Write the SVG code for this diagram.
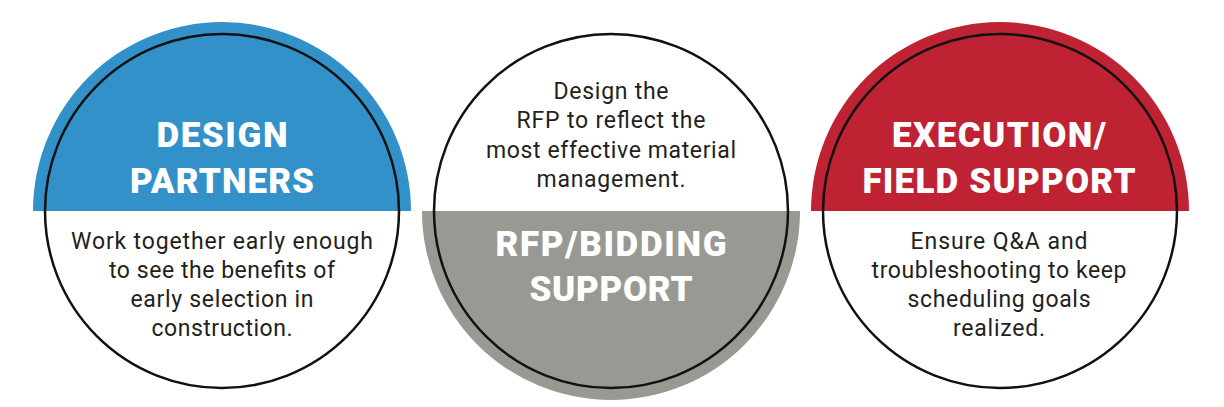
<svg xmlns="http://www.w3.org/2000/svg" width="1224" height="407" viewBox="0 0 1224 407">
  <style>
    .ring { fill: none; stroke: #111; stroke-width: 2.5; }
    .title { font-family: Roboto, "Liberation Sans", sans-serif; font-weight: 900; font-size: 35px; fill: #ffffff; text-anchor: middle; }
    .body { font-family: Roboto, "Liberation Sans", sans-serif; font-weight: 400; font-size: 23px; fill: #231f20; text-anchor: middle; }
  </style>
  <rect width="1224" height="407" fill="#ffffff"/>

  <g id="design-partners">
    <path d="M33 211 A189 189 0 0 1 411 211 Z" fill="#3191c8"/>
    <circle class="ring" cx="222" cy="211" r="177"/>
    <text class="title" x="222" y="147" textLength="131" lengthAdjust="spacing">DESIGN</text>
    <text class="title" x="222" y="193" textLength="184" lengthAdjust="spacing">PARTNERS</text>
    <text class="body" x="222" y="249" textLength="302" lengthAdjust="spacing">Work together early enough</text>
    <text class="body" x="222" y="278" textLength="226" lengthAdjust="spacing">to see the benefits of</text>
    <text class="body" x="222" y="307" textLength="183" lengthAdjust="spacing">early selection in</text>
    <text class="body" x="222" y="336" textLength="141" lengthAdjust="spacing">construction.</text>
  </g>

  <g id="rfp-bidding-support">
    <path d="M422 211 A189 189 0 0 0 800 211 Z" fill="#999994"/>
    <circle class="ring" cx="611" cy="211" r="177"/>
    <text class="body" x="611" y="99" textLength="115" lengthAdjust="spacing">Design the</text>
    <text class="body" x="611" y="128" textLength="189" lengthAdjust="spacing">RFP to reflect the</text>
    <text class="body" x="611" y="158" textLength="250" lengthAdjust="spacing">most effective material</text>
    <text class="body" x="611" y="187" textLength="149" lengthAdjust="spacing">management.</text>
    <text class="title" x="611" y="256" textLength="231" lengthAdjust="spacing">RFP/BIDDING</text>
    <text class="title" x="611" y="301" textLength="163" lengthAdjust="spacing">SUPPORT</text>
  </g>

  <g id="execution-field-support">
    <path d="M811 211 A189 189 0 0 1 1189 211 Z" fill="#be2233"/>
    <circle class="ring" cx="1000" cy="211" r="177"/>
    <text class="title" x="999" y="147" textLength="214" lengthAdjust="spacing">EXECUTION/</text>
    <text class="title" x="999" y="193" textLength="273" lengthAdjust="spacing">FIELD SUPPORT</text>
    <text class="body" x="999" y="249" textLength="177" lengthAdjust="spacing">Ensure Q&amp;A and</text>
    <text class="body" x="999" y="278" textLength="255" lengthAdjust="spacing">troubleshooting to keep</text>
    <text class="body" x="999" y="307" textLength="183" lengthAdjust="spacing">scheduling goals</text>
    <text class="body" x="999" y="336" textLength="92" lengthAdjust="spacing">realized.</text>
  </g>
</svg>
